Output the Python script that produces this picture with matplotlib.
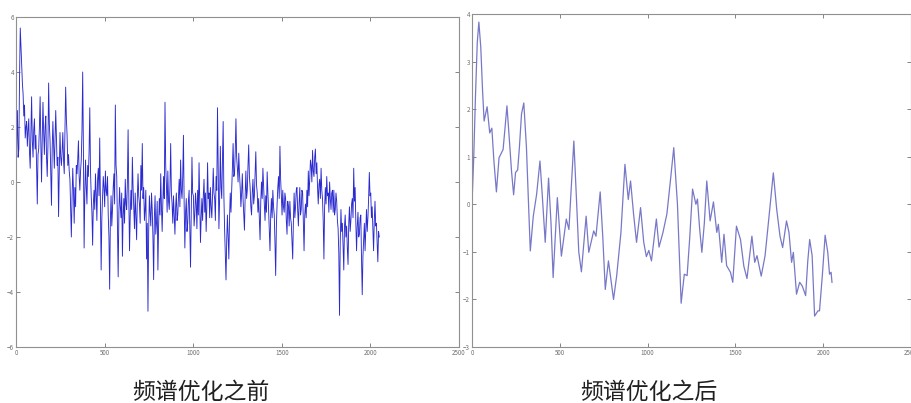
import numpy as np
import matplotlib.pyplot as plt

plt.rcParams['font.family'] = ['Noto Sans CJK SC', 'DejaVu Sans']

# left panel: signal before optimisation (~every 4 samples)
before = [
    0.3, 1.4, 2.6, 0.9, 1.2, 3.8, 5.6, 4.9, 4.2, 3.6, 3.2, 2.4, 2.8, 1.6, 2.0, 2.2,
    1.3, 1.9, 2.3, 1.1, 0.5, 1.8, 3.1, 1.5, 0.9, 1.9, 2.3, 1.2, 1.7, 0.6, -0.8, 1.0,
    1.2, 2.0, 3.1, 1.4, 0.0, 1.6, 2.9, 1.8, 1.0, 2.0, 2.4, 0.9, 0.2, 1.3, 3.6, 2.1,
    1.5, 0.3, -0.85, 1.2, 2.2, 1.4, 0.5, 1.5, 2.6, 1.6, 0.6, 0.9, -1.26, 0.4, 1.8, 0.9,
    0.6, 1.1, 1.8, 0.8, 0.3, 2.0, 3.45, 2.3, 1.7, 0.6, 1.0, 0.4, 0.1, -0.9, -2.0, -0.6,
    0.5, -0.3, -1.5, -0.2, -0.9, 0.6, 0.3, 0.8, 1.5, 0.2, -0.3, 0.4, 0.8, 1.9, 4.0, 1.2,
    -2.4, -0.4, 0.8, -0.2, -0.8, 0.6, 0.2, 1.1, 2.7, 0.4, -0.5, -1.1, -2.3, -0.8, -0.3, -1.0,
    0.3, -0.4, -1.4, 0.1, 0.5, -0.5, 1.6, -0.9, -3.2, -1.3, -0.6, 0.2, -0.2, -0.9, 0.4, -0.3,
    -0.5, 0.2, -1.2, -2.0, -3.9, -1.4, -0.5, -1.6, -1.0, -0.2, 0.3, -0.8, 2.8, 0.6, 0.2, -1.6,
    -3.45, -1.1, -0.2, -0.9, -1.3, -0.4, -2.7, -1.2, -0.6, -1.5, 0.1, -0.8, -1.0, 0.0, 1.9, -0.5,
    -2.5, -1.2, -0.3, -1.0, 0.9, -0.2, -1.0, -1.7, -0.4, -1.3, -2.1, -0.6, 0.3, -0.5, -0.8, -1.5,
    0.6, -0.3, 1.4, -0.6, -0.2, -1.4, -1.0, -0.3, -2.8, -1.5, -4.7, -1.8, -0.5, -1.1, -1.6, -0.4,
    -1.0, -2.0, -3.55, -1.3, -0.5, -1.9, -1.5, -0.7, -3.2, -1.6, -0.6, -1.2, 0.3, -0.9, -1.8, -0.7,
    0.2, -0.6, 2.9, 0.6, -0.1, -1.1, 0.4, -0.7, -1.0, -0.2, 1.4, -0.4, -0.8, -1.5, -0.5, -1.2,
    -1.9, -0.9, -0.4, -1.4, -1.2, -0.5, 0.1, -0.9, 0.8, -0.3, -0.6, 0.2, 1.7, -0.8, -2.4, -1.1,
    -0.6, -1.8, -1.5, -0.7, -0.3, -1.6, -3.1, -1.0, 0.9, -0.4, -0.5, -1.6, -1.2, -0.4, -0.8, -1.7,
    -0.3, -1.2, 0.7, -0.8, -2.2, -1.3, -0.6, -1.4, -0.5, 0.1, -1.1, -0.4, -1.8, -0.9, 0.7, -0.6,
    -0.4, -1.3, -0.2, -0.9, -1.3, -0.5, 0.5, -0.4, -0.6, -1.4, 0.2, -0.3, 2.7, 0.4, -1.7, -0.6,
    1.3, -0.2, -0.6, 0.8, 2.2, -0.5, -1.7, -2.6, -3.56, -2.1, -1.2, -2.0, -2.8, -1.3, -0.4, -1.1,
    -0.35, 0.5, 1.4, 0.2, 0.3, 1.1, 2.3, 0.9, 0.5, 0.0, 1.05, 0.3, -0.2, -0.9, -0.4, 0.3,
    -0.6, -1.2, -1.75, -0.5, 0.4, -0.6, -0.3, 0.6, 1.35, 0.2, -0.2, -0.9, -1.2, -0.4, 0.1, -0.8,
    -0.5, 0.3, 1.1, -0.1, -0.4, -1.1, -0.6, -1.3, -2.1, -0.7, 0.0, -0.6, 0.5, -0.2, -0.8, -1.4,
    -0.5, -1.1, 0.37, -0.4, -1.0, -1.7, -2.5, -1.2, -0.6, -1.3, -0.3, -0.9, -1.2, -2.2, -3.4, -1.6,
    -0.8, -0.2, 0.2, -0.6, 1.3, 0.1, -0.5, -1.2, -0.3, -0.9, -1.1, -0.4, -0.6, -1.4, -1.9, -0.7,
    -0.9, -1.6, -0.7, -1.3, -1.5, -2.2, -2.8, -1.4, -0.4, -1.3, -0.9, -0.3, -0.2, -1.0, -1.6, -0.8,
    -0.2, -1.2, -1.0, -0.3, -0.4, -1.5, -2.5, -1.2, -0.8, -1.3, -0.3, -0.9, 0.4, -0.5, 0.1, 0.8,
    0.6, 0.0, 1.15, 0.4, 0.2, 0.9, 1.2, 0.3, 0.7, -0.2, -0.8, -0.1, 0.1, -0.6, 0.5, -0.3,
    -0.6, -1.4, -2.8, -0.9, -0.2, -0.8, 0.2, -0.5, -0.4, -1.1, 0.0, -0.6, -1.0, -0.4, -0.3, -1.1,
    -0.3, -1.2, -1.0, -0.4, -0.7, -1.4, -1.7, -2.6, -4.85, -2.2, -1.0, -1.8, -1.5, -2.3, -3.2, -1.6,
    -1.2, -2.0, -1.6, -2.4, -3.0, -1.5, -0.9, -1.8, -1.4, -0.8, -0.6, -1.3, 0.5, -0.7, -0.2, -1.5,
    -2.5, -1.6, -1.1, -2.0, -1.9, -1.3, -1.2, -2.8, -4.1, -2.7, -2.1, -1.5, -2.5, -1.7, -1.0, -1.8,
    -1.3, -0.6, 0.35, -0.5, -0.4, -1.3, -0.9, -1.7, -2.5, -1.4, -0.7, -1.6, -1.5, -2.2, -2.9, -1.8,
    -2.0,
]
n_samples = 2050

# right panel: smoothed signal after optimisation
after_x = [0, 10, 20, 30, 39, 50, 60, 69, 86, 101, 113, 125, 139, 154, 177, 188, 199, 212,
           225, 237, 248, 260, 270, 282, 295, 310, 322, 332, 349, 368, 387, 400, 417, 436,
           450, 462, 486, 509, 537, 552, 566, 580, 595, 608, 623, 650, 665, 693, 706, 730,
           745, 759, 777, 806, 824, 848, 871, 890, 903, 920, 937, 960, 978, 993, 1007, 1022,
           1050, 1065, 1087, 1110, 1130, 1149, 1170, 1191, 1209, 1225, 1240, 1256, 1275, 1284,
           1296, 1309, 1323, 1337, 1356, 1375, 1394, 1403, 1422, 1435, 1450, 1472, 1485, 1506,
           1529, 1548, 1566, 1594, 1610, 1623, 1647, 1669, 1693, 1716, 1735, 1754, 1769, 1791,
           1805, 1820, 1830, 1848, 1866, 1881, 1900, 1912, 1923, 1937, 1951, 1970, 1979, 1995,
           2011, 2026, 2036, 2045, 2050]
after_y = [0.0, 1.0, 2.3, 3.4, 3.83, 3.3, 2.4, 1.75, 2.05, 1.5, 1.6, 0.9, 0.26, 0.98, 1.15,
           1.6, 2.07, 1.4, 0.7, 0.2, 0.67, 0.72, 1.2, 1.9, 2.13, 1.2, 0.0, -0.98, -0.25, 0.21,
           0.91, 0.2, -0.8, 0.55, -0.4, -1.54, 0.14, -1.09, -0.31, -0.53, 0.4, 1.33, 0.1,
           -1.0, -1.42, -0.25, -1.01, -0.56, -0.67, 0.26, -0.7, -1.79, -1.19, -2.0, -1.5,
           -0.6, 0.84, 0.1, 0.49, -0.2, -0.8, -0.07, -0.8, -1.1, -0.97, -1.19, -0.31, -0.9,
           -0.6, -0.2, 0.5, 1.19, 0.0, -2.08, -1.47, -1.5, -0.7, 0.32, 0.0, 0.11, -0.5, -1.01,
           -0.4, 0.49, -0.35, 0.05, -0.59, -0.42, -1.22, -0.63, -1.29, -1.43, -1.64, -0.46,
           -0.74, -1.3, -1.56, -0.67, -1.22, -1.08, -1.51, -1.08, -0.2, 0.66, -0.1, -0.67,
           -0.91, -0.35, -0.59, -1.22, -1.01, -1.89, -1.64, -1.72, -1.92, -1.2, -0.74, -1.08,
           -2.35, -2.24, -2.24, -1.5, -0.65, -1.01, -1.47, -1.43, -1.64]

captions = ['频谱优化之前', '频谱优化之后']
xticks = [0, 500, 1000, 1500, 2000, 2500]
yticks_left = [-6, -4, -2, 0, 2, 4, 6]
yticks_right = [-3, -2, -1, 0, 1, 2, 3, 4]

fig = plt.figure(figsize=(9.12, 4.03), dpi=100)
ax1 = fig.add_axes([16 / 912, 1 - 347 / 403, (459 - 16) / 912, (347 - 17) / 403])
ax2 = fig.add_axes([472 / 912, 1 - 347 / 403, (911 - 472) / 912, (347 - 14) / 403])

x_before = np.linspace(0, n_samples, len(before))
ax1.plot(x_before, before, color='#2a2ad0', lw=0.65)
ax2.plot(after_x, after_y, color='#7878c8', lw=0.9)

for ax, yt in [(ax1, yticks_left), (ax2, yticks_right)]:
    ax.set_xlim(0, 2500)
    ax.set_ylim(yt[0], yt[-1])
    ax.set_xticks(xticks)
    ax.set_yticks(yt)
    ax.tick_params(direction='in', length=3, width=0.6, labelsize=4.5,
                   colors='#707070', top=True, right=True, pad=1.5)
    for s in ax.spines.values():
        s.set_color('#909090')
        s.set_linewidth(0.8)

fig.text(201 / 912, 1 - 392 / 403, captions[0], ha='center', va='center',
         fontsize=16.5, color='#202020', fontweight='light')
fig.text(649 / 912, 1 - 392 / 403, captions[1], ha='center', va='center',
         fontsize=16.5, color='#202020', fontweight='light')

fig.savefig('out.png', dpi=100)
